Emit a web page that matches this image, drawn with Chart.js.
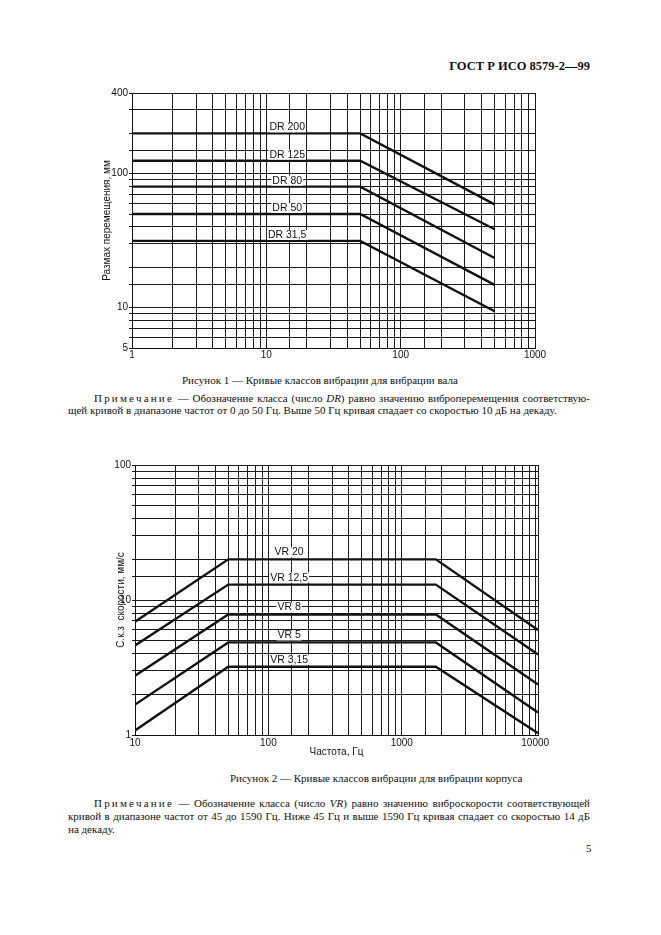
<!DOCTYPE html>
<html>
<head>
<meta charset="utf-8">
<script src="https://cdn.jsdelivr.net/npm/chart.js@4.4.0/dist/chart.umd.min.js"></script>
<style>
  body { margin: 0; width: 661px; height: 935px; position: relative; overflow: hidden; background: #fff; color: #111;
         font-family: "Liberation Serif", "Times New Roman", serif; }
  canvas { position: absolute; }
  .t { position: absolute; font-size: 11px; line-height: 12px; white-space: nowrap; }
  .j { text-align: justify; text-align-last: justify; white-space: normal; }
  .sp { letter-spacing: 0.2em; }
</style>
</head>
<body>
<div class="t" style="right:71px; top:59px; font-size:12.5px; line-height:14px; font-weight:bold;">ГОСТ Р ИСО 8579-2—99</div>

<canvas id="disp" width="470" height="280" style="left:90px; top:85px;"></canvas>
<div class="t" style="left:182px; top:374px;">Рисунок 1 — Кривые классов вибрации для вибрации вала</div>
<div class="t j" style="left:68px; width:522px; top:392px; text-indent:26px; word-spacing:-1.5px;"><span class="sp">Примечание</span> — Обозначение класса (число <i>DR</i>) равно значению виброперемещения соответствую-</div>
<div class="t" style="left:68px; top:404px;">щей кривой в диапазоне частот от 0 до 50 Гц. Выше 50 Гц кривая спадает со скоростью 10 дБ на декаду.</div>

<canvas id="vel" width="470" height="305" style="left:90px; top:455px;"></canvas>
<div class="t" style="left:230px; top:772px;">Рисунок 2 — Кривые классов вибрации для вибрации корпуса</div>
<div class="t j" style="left:68px; width:522px; top:797px; text-indent:26px;"><span class="sp">Примечание</span> — Обозначение класса (число <i>VR</i>) равно значению виброскорости соответствующей</div>
<div class="t j" style="left:68px; width:522px; top:810px;">кривой в диапазоне частот от 45 до 1590 Гц. Ниже 45 Гц и выше 1590 Гц кривая спадает со скоростью 14 дБ</div>
<div class="t" style="left:68px; top:823px;">на декаду.</div>
<div class="t" style="left:586px; top:842px;">5</div>

<script>
// Рисунок 1: размах перемещения, мм
const dispFreq = [1, 50, 500];
const dr200 = [200, 200, 59];
const dr125 = [125, 125, 38.5];
const dr80 = [80, 80, 23.5];
const dr50 = [50, 50, 14.8];
const dr31 = [31.5, 31.5, 9.4];
const drNames = ["DR 200", "DR 125", "DR 80", "DR 50", "DR 31,5"];
const dispXTicks = [1, 10, 100, 1000];
const dispYTicks = [400, 100, 10, 5];

// Рисунок 2: с.к.з. скорости, мм/с
const velFreq = [10, 50, 1800, 10500];
const vr20 = [6.9, 20, 20, 6.0];
const vr12 = [4.6, 13, 13, 3.95];
const vr8 = [2.75, 7.8, 7.8, 2.37];
const vr5 = [1.68, 4.85, 4.85, 1.47];
const vr3 = [1.08, 3.2, 3.2, 1.03];
const vrNames = ["VR 20", "VR 12,5", "VR 8", "VR 5", "VR 3,15"];
const velXTicks = [10, 100, 1000, 10000];
const velYTicks = [100, 10, 1];

const sans = '"Liberation Sans", Arial, sans-serif';
Chart.defaults.font.family = sans;
Chart.defaults.font.size = 10;
Chart.defaults.color = "#111";

function pts(xs, ys) {
  return xs.map((x, i) => ({ x: x, y: ys[i] }));
}

function curves(xs, series, names) {
  return series.map((ys, i) => ({
    label: names[i],
    data: pts(xs, ys),
    showLine: true,
    borderColor: "#111",
    borderWidth: 2.4,
    pointRadius: 0,
    fill: false
  }));
}

// class names above the flat part of each curve, on white
const curveLabels = {
  id: "curveLabels",
  afterDatasetsDraw(chart, args, opts) {
    const ctx = chart.ctx;
    const x = chart.scales.x, y = chart.scales.y;
    ctx.save();
    ctx.font = "10.5px " + sans;
    ctx.textAlign = "center";
    ctx.textBaseline = "middle";
    chart.data.datasets.forEach(ds => {
      const px = x.getPixelForValue(opts.at);
      const py = y.getPixelForValue(ds.data[1].y) - opts.lift;
      const w = ctx.measureText(ds.label).width;
      ctx.fillStyle = "#fff";
      ctx.fillRect(px - w / 2 - 1, py - 5, w + 2, 10);
      ctx.fillStyle = "#111";
      ctx.fillText(ds.label, px, py);
    });
    ctx.restore();
  }
};

function only(list) {
  return v => (list.includes(v) ? String(v) : "");
}

function options(cfg) {
  return {
    responsive: false,
    animation: false,
    layout: { padding: cfg.pad },
    plugins: {
      legend: { display: false },
      tooltip: { enabled: false },
      curveLabels: { at: cfg.labelAt, lift: cfg.lift }
    },
    scales: {
      x: {
        type: "logarithmic",
        min: cfg.xmin, max: cfg.xmax,
        border: { color: "#111", width: 1 },
        grid: { color: "#1a1a1a", lineWidth: 1, drawTicks: false },
        ticks: { autoSkip: false, maxRotation: 0, padding: cfg.xpad, callback: only(cfg.xticks) },
        title: cfg.xtitle
          ? { display: true, text: cfg.xtitle, padding: { top: 0, bottom: 2 } }
          : { display: false },
        afterFit: s => { s.height = cfg.xh; }
      },
      y: {
        type: "logarithmic",
        min: cfg.ymin, max: cfg.ymax,
        border: { color: "#111", width: 1 },
        grid: { color: "#1a1a1a", lineWidth: 1, tickLength: 3 },
        ticks: { autoSkip: false, padding: 1, callback: only(cfg.yticks) },
        title: { display: true, text: cfg.ytitle, padding: { top: cfg.ytpad, bottom: 0 } },
        afterFit: s => { s.width = cfg.yw; }
      }
    }
  };
}

new Chart(document.getElementById("disp"), {
  type: "scatter",
  data: { datasets: curves(dispFreq, [dr200, dr125, dr80, dr50, dr31], drNames) },
  options: options({
    pad: { top: 8, right: 25, bottom: 0, left: 0 },
    xmin: 1, xmax: 1000, ymin: 5, ymax: 400,
    xticks: dispXTicks, yticks: dispYTicks,
    xpad: 1, xh: 17, yw: 42, ytpad: 11,
    ytitle: "Размах перемещения, мм",
    labelAt: 14.3, lift: 6
  }),
  plugins: [curveLabels]
});

new Chart(document.getElementById("vel"), {
  type: "scatter",
  data: { datasets: curves(velFreq, [vr20, vr12, vr8, vr5, vr3], vrNames) },
  options: options({
    pad: { top: 10, right: 22, bottom: 0, left: 0 },
    xmin: 10, xmax: 10500, ymin: 1, ymax: 100,
    xticks: velXTicks, yticks: velYTicks,
    xpad: 2, xh: 25, yw: 45, ytpad: 25,
    xtitle: "Частота, Гц",
    ytitle: "С.к.з  скорости, мм/с",
    labelAt: 143, lift: 7
  }),
  plugins: [curveLabels]
});
</script>
</body>
</html>
